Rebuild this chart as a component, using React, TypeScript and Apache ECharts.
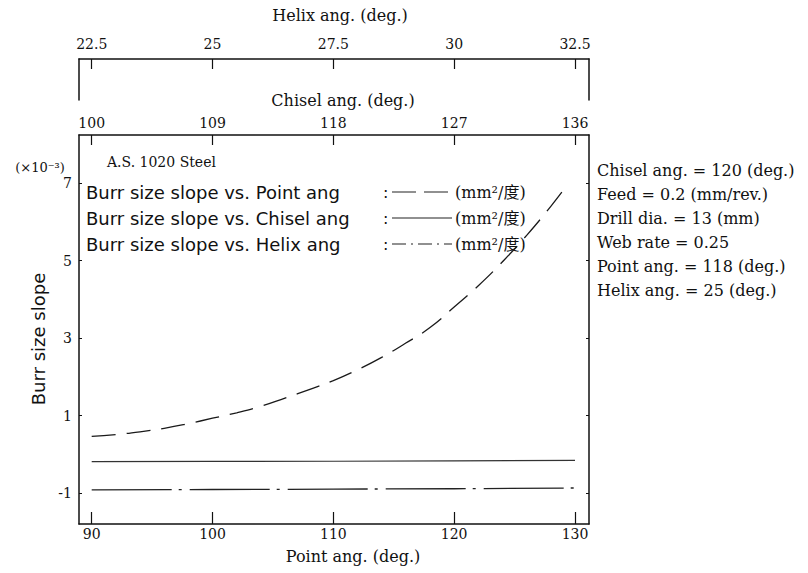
import React, { useEffect, useRef } from "react";
import * as echarts from "echarts";

// ---- data ----
const pointTicks = [90, 100, 110, 120, 130];
const chiselTicks = [100, 109, 118, 127, 136];
const helixTicks = [22.5, 25, 27.5, 30, 32.5];
const slopeTicks = [-1, 1, 3, 5, 7];

const pointAng = [90, 92, 94, 96, 98, 100, 102, 104, 106, 108, 110, 112, 114, 116, 118, 120, 122, 124, 126, 128, 129];
const pointSlope = [0.46, 0.51, 0.58, 0.67, 0.79, 0.93, 1.07, 1.24, 1.45, 1.67, 1.9, 2.18, 2.5, 2.87, 3.27, 3.8, 4.35, 4.97, 5.65, 6.4, 6.8];

const chiselAng = [100, 109, 118, 127, 136];
const chiselSlope = [-0.19, -0.185, -0.18, -0.17, -0.16];

const helixAng = [22.5, 25, 27.5, 30, 32.5];
const helixSlope = [-0.92, -0.91, -0.9, -0.89, -0.87];

const legendRows = [
  "Burr size slope vs. Point ang",
  "Burr size slope vs. Chisel ang",
  "Burr size slope vs. Helix ang",
];
const unitText = "(mm²/度)";
const conditions = [
  "Chisel ang. = 120 (deg.)",
  "Feed = 0.2 (mm/rev.)",
  "Drill dia. = 13 (mm)",
  "Web rate = 0.25",
  "Point ang. = 118 (deg.)",
  "Helix ang. = 25 (deg.)",
];

const SERIF = "'DejaVu Serif', 'Liberation Serif', serif";
const SANS = "'DejaVu Sans', 'Liberation Sans', sans-serif";
const INK = "#111";

export default function App() {
  const ref = useRef<HTMLDivElement>(null);
  useEffect(() => {
    document.body.style.margin = "0";
    const chart = echarts.init(ref.current!, null, { renderer: "svg" });
    const axisLine = { show: true, onZero: false, lineStyle: { color: INK, width: 1.5 } };
    const labelStyle = { fontFamily: SERIF, fontSize: 14, color: INK };

    const legendDash: any[] = [[24, 8], null, [14, 5, 2, 5]];
    const graphic: any[] = [
      { type: "text", x: 340, y: 15, style: { text: "Helix ang. (deg.)", fontFamily: SERIF, fontSize: 16, fill: INK, align: "center", verticalAlign: "middle" } },
      { type: "text", x: 343, y: 100, style: { text: "Chisel ang. (deg.)", fontFamily: SERIF, fontSize: 16, fill: INK, align: "center", verticalAlign: "middle" } },
      { type: "text", x: 353, y: 556, style: { text: "Point ang. (deg.)", fontFamily: SERIF, fontSize: 16, fill: INK, align: "center", verticalAlign: "middle" } },
      { type: "text", x: 38, y: 339, rotation: Math.PI / 2, style: { text: "Burr size slope", fontFamily: SANS, fontSize: 18, fill: INK, align: "center", verticalAlign: "middle" } },
      { type: "text", x: 40, y: 167, style: { text: "(×10⁻³)", fontFamily: SERIF, fontSize: 13, fill: INK, align: "center", verticalAlign: "middle" } },
      { type: "text", x: 107, y: 162, style: { text: "A.S. 1020 Steel", fontFamily: SERIF, fontSize: 14, fill: INK, align: "left", verticalAlign: "middle" } },
    ];
    legendRows.forEach((t, i) => {
      const y = 192 + i * 26;
      graphic.push({ type: "text", x: 86, y, style: { text: t, fontFamily: SANS, fontSize: 18, fill: INK, align: "left", verticalAlign: "middle" } });
      graphic.push({ type: "text", x: 383, y, style: { text: ":", fontFamily: SANS, fontSize: 16, fill: INK, align: "left", verticalAlign: "middle" } });
      graphic.push({
        type: "line",
        shape: { x1: 392, y1: y, x2: 452, y2: y },
        style: { stroke: "#222", lineWidth: 1.2, lineDash: legendDash[i] || undefined },
      });
      graphic.push({ type: "text", x: 455, y, style: { text: unitText, fontFamily: "'DejaVu Serif', 'Noto Sans CJK SC', serif", fontSize: 16, fill: INK, align: "left", verticalAlign: "middle" } });
    });
    conditions.forEach((t, i) => {
      graphic.push({ type: "text", x: 597, y: 170 + i * 24, style: { text: t, fontFamily: SERIF, fontSize: 16, fill: INK, align: "left", verticalAlign: "middle" } });
    });

    const noAxisExtras = { axisTick: { show: false }, axisLabel: { show: false }, splitLine: { show: false } };

    chart.setOption({
      animation: false,
      backgroundColor: "#fff",
      grid: [
        { left: 79, right: 219, top: 135, bottom: 49, containLabel: false },
        { left: 79, right: 219, top: 59, height: 41, containLabel: false },
      ],
      xAxis: [
        {
          type: "value", gridIndex: 0, position: "bottom",
          min: 88.95, max: 131.16,
          axisLine,
          axisTick: { show: true, inside: true, length: 12, customValues: pointTicks, lineStyle: { color: INK, width: 1.2 } },
          axisLabel: { ...labelStyle, customValues: pointTicks, margin: 3 },
          splitLine: { show: false },
        },
        {
          type: "value", gridIndex: 0, position: "top",
          min: 99.054, max: 137.043,
          axisLine,
          axisTick: { show: true, inside: true, length: 10, customValues: chiselTicks, lineStyle: { color: INK, width: 1.2 } },
          axisLabel: { ...labelStyle, customValues: chiselTicks, margin: 5 },
          splitLine: { show: false },
        },
        {
          type: "value", gridIndex: 1, position: "top",
          min: 22.237, max: 32.79,
          axisLine,
          axisTick: { show: true, inside: true, length: 10, customValues: helixTicks, lineStyle: { color: INK, width: 1.2 } },
          axisLabel: { ...labelStyle, customValues: helixTicks, margin: 8 },
          splitLine: { show: false },
        },
      ],
      yAxis: [
        {
          type: "value", gridIndex: 0, position: "left",
          min: -1.8, max: 8.24,
          axisLine,
          axisTick: { show: true, inside: true, length: 3, customValues: slopeTicks, lineStyle: { color: INK } },
          axisLabel: { ...labelStyle, customValues: slopeTicks, margin: 7 },
          splitLine: { show: false },
        },
        {
          type: "value", gridIndex: 0, position: "right",
          min: -1.8, max: 8.24,
          axisLine,
          axisTick: { show: true, inside: true, length: 3, customValues: slopeTicks, lineStyle: { color: INK } },
          axisLabel: { show: false },
          splitLine: { show: false },
        },
        { type: "value", gridIndex: 1, position: "left", min: 0, max: 1, axisLine, ...noAxisExtras },
        { type: "value", gridIndex: 1, position: "right", min: 0, max: 1, axisLine, ...noAxisExtras },
      ],
      series: [
        {
          name: "Point ang", type: "line", xAxisIndex: 0, yAxisIndex: 0,
          data: pointAng.map((x, i) => [x, pointSlope[i]]),
          smooth: true, showSymbol: false,
          lineStyle: { color: "#1a1a1a", width: 1.3, type: [24, 11] },
        },
        {
          name: "Chisel ang", type: "line", xAxisIndex: 1, yAxisIndex: 0,
          data: chiselAng.map((x, i) => [x, chiselSlope[i]]),
          showSymbol: false,
          lineStyle: { color: "#333", width: 1.2, type: "solid" },
        },
        {
          name: "Helix ang", type: "line", xAxisIndex: 1, yAxisIndex: 0,
          data: helixAng.map((x, i) => [100 + (x - 22.5) * 3.6, helixSlope[i]]),
          showSymbol: false,
          lineStyle: { color: "#222", width: 1.3, type: [80, 7, 3, 8] },
        },
      ],
      graphic,
    });
    return () => chart.dispose();
  }, []);
  return <div ref={ref} style={{ width: 808, height: 573 }} />;
}
